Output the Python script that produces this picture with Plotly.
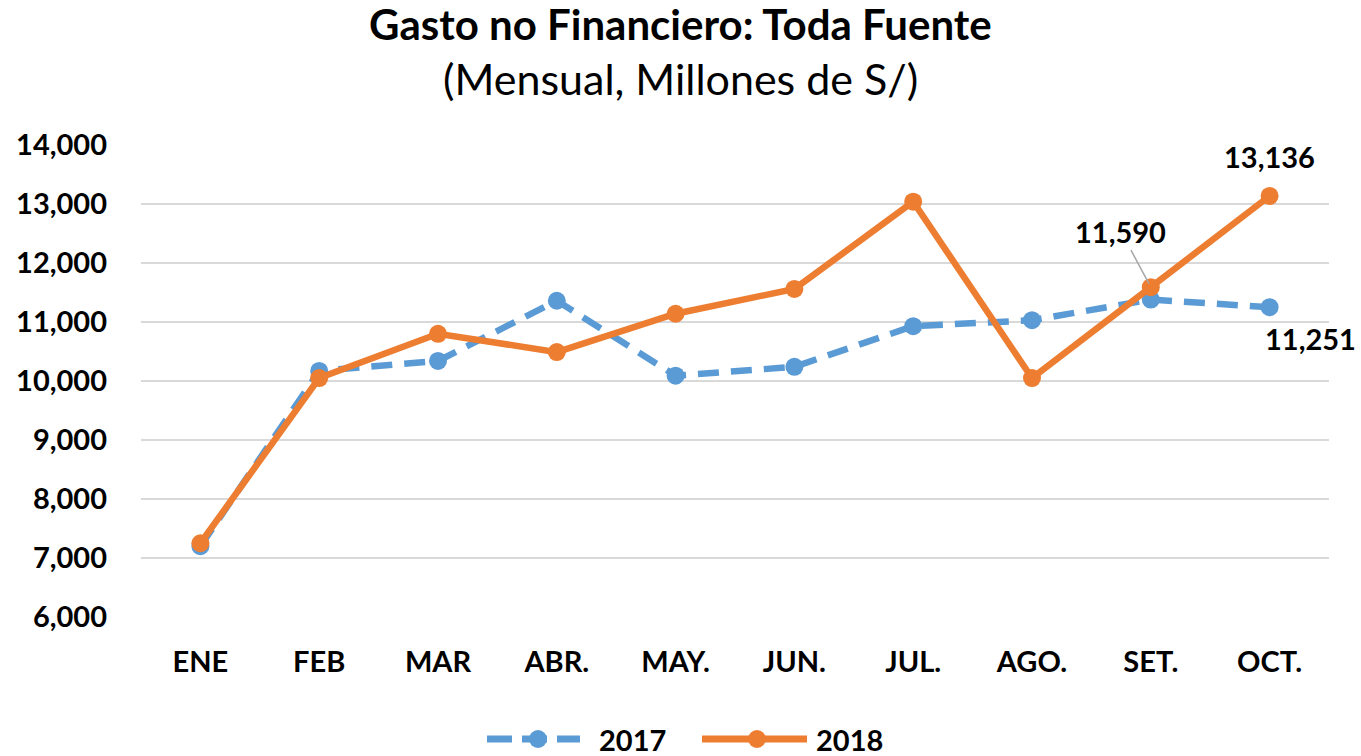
import plotly.graph_objects as go

months = ["ENE", "FEB", "MAR", "ABR.", "MAY.", "JUN.", "JUL.", "AGO.", "SET.", "OCT."]
y2017 = [7200, 10170, 10340, 11360, 10090, 10240, 10930, 11030, 11380, 11251]
y2018 = [7250, 10050, 10800, 10490, 11140, 11560, 13040, 10050, 11590, 13136]
series_names = ["2017", "2018"]

FONT = "Lato"
BLUE = "#5b9bd5"
ORANGE = "#ed7d31"
W, H = 1361, 756
ML, MR, MT, MB = 141, 32, 145, 139
PW, PH = W - ML - MR, H - MT - MB


def px_x(p):
    return (p - ML) / PW


def px_y(p):
    return (H - MB - p) / PH


fig = go.Figure()
fig.add_trace(go.Scatter(
    x=months, y=y2017, name=series_names[0], mode="lines+markers",
    line=dict(color=BLUE, width=6.5, dash="21px,12px"),
    marker=dict(size=18, color=BLUE),
))
fig.add_trace(go.Scatter(
    x=months, y=y2018, name=series_names[1], mode="lines+markers",
    line=dict(color=ORANGE, width=6.5),
    marker=dict(size=18, color=ORANGE),
))

lab_font = dict(family=FONT, size=29, color="black", weight="bold")
fig.add_annotation(x=months[9], y=y2018[9], text=f"{y2018[9]:,}", showarrow=False,
                   yshift=39, font=lab_font)
fig.add_annotation(x=months[9], y=y2017[9], text=f"{y2017[9]:,}", showarrow=False,
                   yshift=-31, xshift=41, font=lab_font)
fig.add_annotation(x=months[8], y=y2018[8], text=f"{y2018[8]:,}", showarrow=True,
                   arrowhead=0, arrowwidth=1.5, arrowcolor="#a6a6a6",
                   ax=-30, ay=-56, standoff=4, font=lab_font)

# Title and subtitle
fig.add_annotation(xref="paper", yref="paper", x=px_x(680), y=px_y(24),
                   text="<b>Gasto no Financiero: Toda Fuente</b>", showarrow=False,
                   xanchor="center", yanchor="middle",
                   font=dict(family=FONT, size=42, color="black"))
fig.add_annotation(xref="paper", yref="paper", x=px_x(680), y=px_y(78),
                   text="(Mensual, Millones de S/)", showarrow=False,
                   xanchor="center", yanchor="middle",
                   font=dict(family=FONT, size=43, color="black"))

# Custom legend
ly = px_y(739)
leg_font = dict(family=FONT, size=29, color="black", weight="bold")
fig.add_shape(type="line", xref="paper", yref="paper", x0=px_x(487), x1=px_x(580), y0=ly, y1=ly,
              line=dict(color=BLUE, width=7, dash="25px,10px"))
fig.add_shape(type="circle", xref="paper", yref="paper",
              x0=px_x(529), x1=px_x(547), y0=px_y(748), y1=px_y(730),
              fillcolor=BLUE, line=dict(color=BLUE, width=0))
fig.add_annotation(xref="paper", yref="paper", x=px_x(597), y=ly, text=series_names[0],
                   showarrow=False, xanchor="left", yanchor="middle", font=leg_font)
fig.add_shape(type="line", xref="paper", yref="paper", x0=px_x(702), x1=px_x(807), y0=ly, y1=ly,
              line=dict(color=ORANGE, width=7))
fig.add_shape(type="circle", xref="paper", yref="paper",
              x0=px_x(748), x1=px_x(766), y0=px_y(748), y1=px_y(730),
              fillcolor=ORANGE, line=dict(color=ORANGE, width=0))
fig.add_annotation(xref="paper", yref="paper", x=px_x(814), y=ly, text=series_names[1],
                   showarrow=False, xanchor="left", yanchor="middle", font=leg_font)

fig.update_layout(
    width=W, height=H,
    paper_bgcolor="white", plot_bgcolor="white",
    margin=dict(l=ML, r=MR, t=MT, b=MB),
    showlegend=False,
    xaxis=dict(
        range=[-0.5, 9.5],
        showgrid=False, showline=False, zeroline=False,
        tickfont=dict(family=FONT, size=29, color="black", weight="bold"),
        ticks="", ticklabelstandoff=25,
    ),
    yaxis=dict(
        range=[6000, 14000], dtick=1000, tickformat=",d",
        showgrid=True, gridcolor="#d9d9d9", gridwidth=2,
        zeroline=False, showline=False,
        tickfont=dict(family=FONT, size=29, color="black", weight="bold"),
        ticks="", ticklabelstandoff=33,
    ),
)

fig.write_html("out.html", config={"displayModeBar": False},
               post_script="document.body.style.margin='0';")
